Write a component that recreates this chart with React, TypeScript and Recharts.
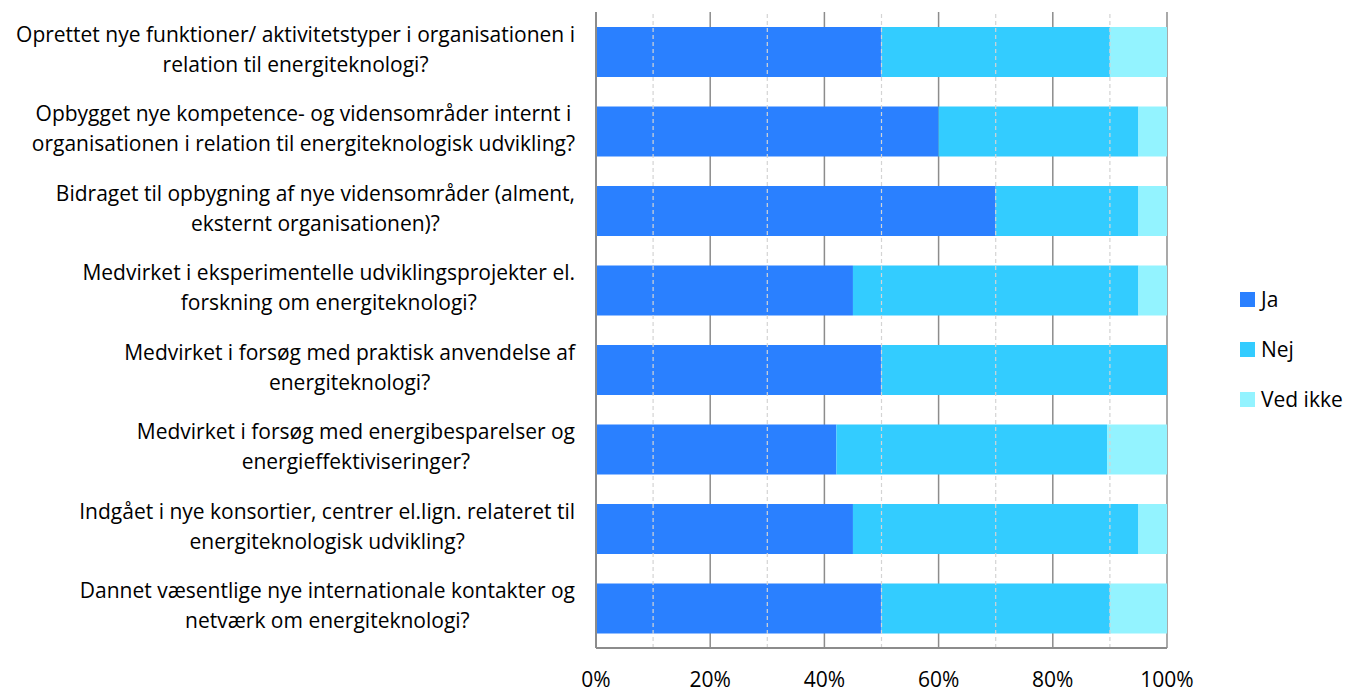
import React from "react";
import {
  BarChart,
  Bar,
  XAxis,
  YAxis,
  CartesianGrid,
  ReferenceLine,
} from "recharts";

// spørgsmål (to linjer pr. label)
const questions = [
  ["Oprettet nye funktioner/ aktivitetstyper i organisationen i", "relation til energiteknologi?"],
  ["Opbygget nye kompetence- og vidensområder internt i ", "organisationen i relation til energiteknologisk udvikling?"],
  ["Bidraget til opbygning af nye vidensområder (alment,", "eksternt organisationen)?"],
  ["Medvirket i eksperimentelle udviklingsprojekter el.", "forskning om energiteknologi?"],
  ["Medvirket i forsøg med praktisk anvendelse af", "energiteknologi?"],
  ["Medvirket i forsøg med energibesparelser og", "energieffektiviseringer?"],
  ["Indgået i nye konsortier, centrer el.lign. relateret til", "energiteknologisk udvikling?"],
  ["Dannet væsentlige nye internationale kontakter og", "netværk om energiteknologi?"],
];

const ja = [50, 60, 70, 45, 50, 42.1, 45, 50];
const nej = [40, 35, 25, 50, 50, 47.4, 50, 40];
const vedIkke = [10, 5, 5, 5, 0, 10.5, 5, 10];

const majorTicks = [0, 20, 40, 60, 80, 100];
const minorTicks = [10, 30, 50, 70, 90];

const FONT = "'Open Sans', 'Noto Sans', sans-serif";
const FS = 21;

const data = questions.map((q, i) => ({
  name: String(i),
  ja: ja[i],
  nej: nej[i],
  vedIkke: vedIkke[i],
}));

let canvas: HTMLCanvasElement | null = null;
function textWidth(s: string) {
  if (!canvas) canvas = document.createElement("canvas");
  const ctx = canvas.getContext("2d")!;
  ctx.font = `${FS}px ${FONT}`;
  return ctx.measureText(s).width;
}

const QuestionTick = (props: any) => {
  const { y, payload } = props;
  const lines = questions[Number(payload.value)];
  const w = Math.max(...lines.map((l) => textWidth(l.trimEnd())));
  const cx = 575 - w / 2;
  return (
    <g>
      {lines.map((l, i) => (
        <text
          key={i}
          x={cx}
          y={y + (i === 0 ? -10 : 20)}
          textAnchor="middle"
          fontSize={FS}
          fontFamily={FONT}
          fill="#000"
        >
          {l.trimEnd()}
        </text>
      ))}
    </g>
  );
};

const colors = { ja: "#2A80FF", nej: "#33CCFF", vedIkke: "#93F3FF" };
const legendItems = [
  { key: "ja", label: "Ja" },
  { key: "nej", label: "Nej" },
  { key: "vedIkke", label: "Ved ikke" },
];

export default function App() {
  return (
    <div style={{ position: "relative", width: 1356, height: 693 }}>
      <style>{`body{margin:0}`}</style>
      <BarChart
        width={1356}
        height={693}
        data={data}
        layout="vertical"
        margin={{ top: 12, right: 189, bottom: 0, left: 0 }}
        barSize={50}
      >
        <CartesianGrid
          horizontal={false}
          stroke="#8c8c8c"
          strokeWidth={1.5}
        />
        {minorTicks.map((t) => (
          <ReferenceLine
            key={t}
            x={t}
            stroke="#d4d4d4"
            strokeDasharray="4 3"
            strokeWidth={1.2}
          />
        ))}
        <XAxis
          type="number"
          domain={[0, 100]}
          ticks={majorTicks}
          tickFormatter={(v) => `${v}%`}
          height={45}
          axisLine={{ stroke: "#8c8c8c", strokeWidth: 2 }}
          tickLine={false}
          tickMargin={18}
          tick={{ fontSize: FS, fontFamily: FONT, fill: "#000" }}
          interval={0}
        />
        <YAxis
          type="category"
          dataKey="name"
          width={596}
          axisLine={{ stroke: "#8c8c8c", strokeWidth: 2 }}
          tickLine={false}
          tick={<QuestionTick />}
          interval={0}
        />
        <Bar dataKey="ja" stackId="a" fill={colors.ja} name="Ja" isAnimationActive={false} />
        <Bar dataKey="nej" stackId="a" fill={colors.nej} name="Nej" isAnimationActive={false} />
        <Bar dataKey="vedIkke" stackId="a" fill={colors.vedIkke} name="Ved ikke" isAnimationActive={false} />
      </BarChart>
      {/* legend */}
      {legendItems.map((it, i) => (
        <div
          key={it.key}
          style={{
            position: "absolute",
            left: 1240,
            top: 286 + i * 50,
            height: 26,
            display: "flex",
            alignItems: "center",
            fontFamily: FONT,
            fontSize: FS,
            color: "#000",
            whiteSpace: "nowrap",
          }}
        >
          <span
            style={{
              display: "inline-block",
              width: 15,
              height: 15,
              background: (colors as any)[it.key],
              marginRight: 6,
            }}
          />
          {it.label}
        </div>
      ))}
    </div>
  );
}
